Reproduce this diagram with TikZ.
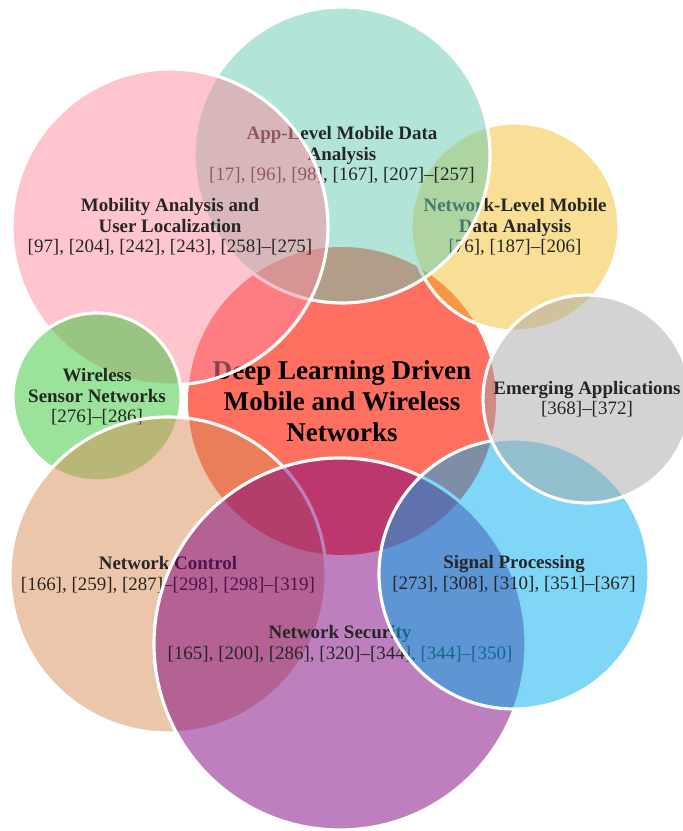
\documentclass[tikz,border=0pt]{standalone}
\usepackage{fontspec}
\setmainfont{Liberation Serif}
\usepackage{tikz}
\definecolor{coreRed}{RGB}{255,24,0}
\definecolor{appTeal}{RGB}{101,203,177}
\definecolor{mobPink}{RGB}{255,139,159}
\definecolor{netYellow}{RGB}{243,189,43}
\definecolor{wsnGreen}{RGB}{55,197,53}
\definecolor{emGrey}{RGB}{167,167,167}
\definecolor{ctrlTan}{RGB}{215,141,85}
\definecolor{secPurple}{RGB}{125,0,125}
\definecolor{sigBlue}{RGB}{0,173,237}
\tikzset{
    every node/.style={circle, draw=white, line width=1.8pt, fill opacity=.5,
    	text opacity=1, align=center, inner sep=0pt, text=black!85,
    	font=\fontsize{10.8}{11.7}\selectfont}
}
\tikzset{
    core/.style={draw=none, fill opacity=.62, text=black,
    	font=\fontsize{15.4}{17.6}\selectfont\bfseries}
}
\begin{document}
\begin{tikzpicture}
	\useasboundingbox (0cm, 0cm) rectangle (13.64cm, 16.62cm);

	\node (core) [core, fill=coreRed, minimum size=6.16cm] at (6.84cm, 8.60cm)
		{Deep Learning Driven\\Mobile and Wireless\\Networks};
	\node (netlevel) [fill=netYellow, minimum size=4.16cm] at (10.30cm, 12.08cm)
		{\textbf{Network-Level Mobile}\\\textbf{Data Analysis}\\{[76], [187]–[206]}};
	\node (applevel) [fill=appTeal, minimum size=5.92cm] at (6.84cm, 13.52cm)
		{\textbf{App-Level Mobile Data}\\\textbf{Analysis}\\{[17], [96], [98], [167], [207]–[257]}};
	\node (mobility) [fill=mobPink, minimum size=6.32cm] at (3.40cm, 12.08cm)
		{\textbf{Mobility Analysis and}\\\textbf{User Localization}\\{[97], [204], [242], [243], [258]–[275]}};
	\node (sensor) [fill=wsnGreen, minimum size=3.36cm] at (1.94cm, 8.68cm)
		{\textbf{Wireless}\\\textbf{Sensor Networks}\\{[276]–[286]}};
	\node (control) [fill=ctrlTan, minimum size=6.32cm] at (3.36cm, 5.12cm)
		{\textbf{Network Control}\\{[166], [259], [287]–[298], [298]–[319]}};
	\node (security) [fill=secPurple, minimum size=7.44cm] at (6.80cm, 3.74cm)
		{\textbf{Network Security}\\{[165], [200], [286], [320]–[344], [344]–[350]}};
	\node (signal) [fill=sigBlue, minimum size=5.40cm] at (10.28cm, 5.14cm)
		{\textbf{Signal Processing}\\{[273], [308], [310], [351]–[367]}};
	\node (emerging) [fill=emGrey, minimum size=4.16cm] at (11.74cm, 8.64cm)
		{\textbf{Emerging Applications}\\{[368]–[372]}};
\end{tikzpicture}
\end{document}
